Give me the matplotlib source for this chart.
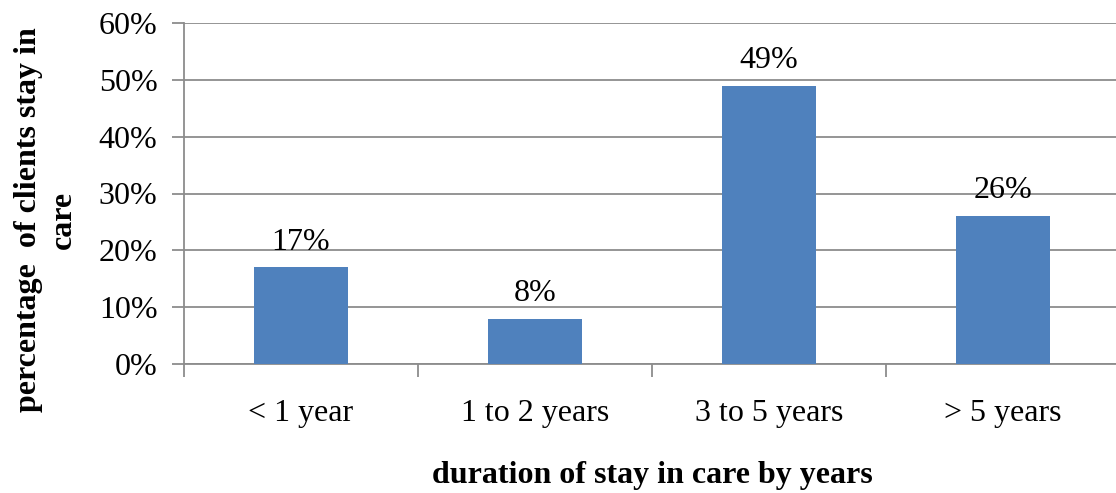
import numpy as np
import matplotlib.pyplot as plt

plt.rcParams['font.family'] = ['Liberation Serif', 'DejaVu Serif']

categories = ['< 1 year', '1 to 2 years', '3 to 5 years', '> 5 years']
values = [17, 8, 49, 26]
yticks = [0, 10, 20, 30, 40, 50, 60]

fig = plt.figure(figsize=(11.16, 4.93), dpi=100)
# plot area: left at x=184, right runs past the image edge, top y=23, bottom y=364
ax = fig.add_axes([184 / 1116, 1 - 364 / 493, 936 / 1116, (364 - 23) / 493])

x = np.arange(len(categories))
bars = ax.bar(x, values, width=0.40, color='#4F81BD', zorder=3)

for xi, v in zip(x, values):
    ax.text(xi, v + 1.9, f'{v}%', ha='center', va='bottom', fontsize=23)

ax.set_xlim(-0.5, len(categories) - 0.5)
ax.set_ylim(0, 60)
ax.set_yticks(yticks)
ax.set_yticklabels([f'{t}%' for t in yticks], fontsize=23)
ax.yaxis.grid(True, color='#8c8c8c', linewidth=1.3, zorder=0)

ax.set_xticks(x)
ax.set_xticklabels(categories, fontsize=23)
ax.set_xticks(np.arange(len(categories) + 1) - 0.5, minor=True)
ax.tick_params(axis='x', which='major', length=0, pad=25)
ax.tick_params(axis='x', which='minor', length=9, width=1.3, color='#8c8c8c')
ax.tick_params(axis='y', length=9, width=1.3, color='#8c8c8c', pad=10)

for side in ['top', 'right']:
    ax.spines[side].set_visible(False)
for side in ['left', 'bottom']:
    ax.spines[side].set_color('#8c8c8c')
    ax.spines[side].set_linewidth(1.3)

ax.set_xlabel('duration of stay in care by years', fontsize=23, fontweight='bold', labelpad=24)
fig.text(46 / 1116, 1 - 220 / 493, 'percentage  of clients stay in\ncare', rotation=90,
         ha='center', va='center', fontsize=23, fontweight='bold', linespacing=1.25)

fig.savefig('out.png', dpi=100)
